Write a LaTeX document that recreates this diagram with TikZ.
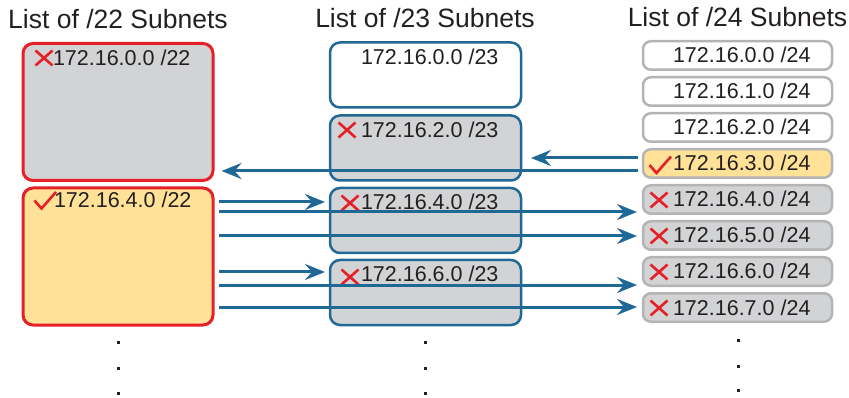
\documentclass[tikz,border=0pt]{standalone}
\usepackage{fontspec}
\setmainfont{Liberation Sans}
\usetikzlibrary{arrows.meta}
\definecolor{netred}{RGB}{230,32,40}
\definecolor{netblue}{RGB}{32,104,150}
\definecolor{netgray}{RGB}{209,211,212}
\definecolor{netyellow}{RGB}{255,226,152}
\definecolor{netline}{RGB}{180,180,180}
\definecolor{nettext}{RGB}{35,31,32}

\begin{document}
\begin{tikzpicture}[x=1pt, y=-1pt,
    every node/.style={outer sep=0pt, inner sep=0pt, text=nettext},
    box22/.style={draw=netred, line width=3pt, rounded corners=10pt, minimum width=190pt, minimum height=137pt},
    box23/.style={draw=netblue, line width=2.5pt, rounded corners=10pt, minimum width=191pt, minimum height=65pt},
    box24/.style={draw=netline, line width=2.5pt, rounded corners=8pt, minimum width=189pt, minimum height=28.5pt, fill=white},
    gone/.style={fill=netgray}, kept/.style={fill=netyellow},
    title/.style={font=\fontsize{26.5}{30}\selectfont, anchor=base},
    net/.style={font=\fontsize{21.5}{24}\selectfont, anchor=base west},
    flow/.style={draw=netblue, line width=3pt, -{Stealth[length=20pt, width=16pt, inset=7pt]}},
    redx/.pic={\draw[netred, line width=2.6pt] (-8.5,-7.5) -- (8.5,7.5) (-8.5,7.5) -- (8.5,-7.5);},
    redtick/.pic={\draw[netred, line width=2.6pt] (-10.5,0.5) -- (-3.5,8.5) -- (11,-8);}]
    \useasboundingbox (0,0) rectangle (849,398);

    \node[title] (T22) at (118,29) {List of /22 Subnets};
    \node[title] (T23) at (425,28) {List of /23 Subnets};
    \node[title] (T24) at (737.5,27) {List of /24 Subnets};

    % /22 column
    \node[box22, gone] (L1) at (118,112) {};
    \node[box22, kept] (L2) at (118,256.5) {};
    \node[net] (l1) at (53,65.5) {172.16.0.0 /22};
    \node[net] (l2) at (54,208) {172.16.4.0 /22};
    \pic at (44,58) {redx};
    \pic at (45,200) {redtick};

    % /23 column
    \node[box23, fill=white] (M1) at (425.5,75) {};
    \node[box23, gone] (M2) at (425.5,148) {};
    \node[box23, gone] (M3) at (425.5,220.5) {};
    \node[box23, gone] (M4) at (425.5,292.5) {};
    \node[net] (m1) at (361,65) {172.16.0.0 /23};
    \node[net] (m2) at (361,138) {172.16.2.0 /23};
    \node[net] (m3) at (361,210) {172.16.4.0 /23};
    \node[net] (m4) at (361,282) {172.16.6.0 /23};
    \pic at (347,130) {redx};
    \pic at (350,203) {redx};
    \pic at (350,277) {redx};

    % /24 column
    \node[box24] (R1) at (737.5,55.5) {};
    \node[box24] (R2) at (737.5,91.5) {};
    \node[box24] (R3) at (737.5,127.5) {};
    \node[box24, kept] (R4) at (737.5,163.5) {};
    \node[box24, gone] (R5) at (737.5,199.5) {};
    \node[box24, gone] (R6) at (737.5,235.5) {};
    \node[box24, gone] (R7) at (737.5,271.5) {};
    \node[box24, gone] (R8) at (737.5,307.5) {};
    \node[net] (r1) at (673,63) {172.16.0.0 /24};
    \node[net] (r2) at (673,99) {172.16.1.0 /24};
    \node[net] (r3) at (673,135) {172.16.2.0 /24};
    \node[net] (r4) at (673,171) {172.16.3.0 /24};
    \node[net] (r5) at (673,207) {172.16.4.0 /24};
    \node[net] (r6) at (673,243) {172.16.5.0 /24};
    \node[net] (r7) at (673,279) {172.16.6.0 /24};
    \node[net] (r8) at (673,315) {172.16.7.0 /24};
    \pic at (660,164.5) {redtick};
    \pic at (659,200) {redx};
    \pic at (659,236) {redx};
    \pic at (659,272) {redx};
    \pic at (659,308) {redx};

    % arrows
    \draw[flow, shorten <=5pt, shorten >=10pt] (R4.west |- 0,158) -- (M2.east |- 0,158);
    \draw[flow, shorten <=5pt, shorten >=8.5pt] (R4.west |- 0,171) -- (L1.east |- 0,171);
    \draw[flow, shorten <=5.5pt, shorten >=5pt] (L2.east |- 0,202) -- (M3.west |- 0,202);
    \draw[flow, shorten <=5.5pt, shorten >=6pt] (L2.east |- 0,212) -- (R5.west |- 0,212);
    \draw[flow, shorten <=5.5pt, shorten >=6pt] (L2.east |- 0,236) -- (R6.west |- 0,236);
    \draw[flow, shorten <=5.5pt, shorten >=5pt] (L2.east |- 0,272) -- (M4.west |- 0,272);
    \draw[flow, shorten <=5.5pt, shorten >=6pt] (L2.east |- 0,285) -- (R7.west |- 0,285);
    \draw[flow, shorten <=5.5pt, shorten >=6pt] (L2.east |- 0,307) -- (R8.west |- 0,307);

    % dots
    \foreach \x in {118,425}
        \foreach \y in {342,368,393}
            \fill[nettext] (\x-1.5,\y-1.5) rectangle (\x+1.5,\y+1.5);
    \foreach \y in {340,366,390}
        \fill[nettext] (738-1.5,\y-1.5) rectangle (738+1.5,\y+1.5);
\end{tikzpicture}
\end{document}
